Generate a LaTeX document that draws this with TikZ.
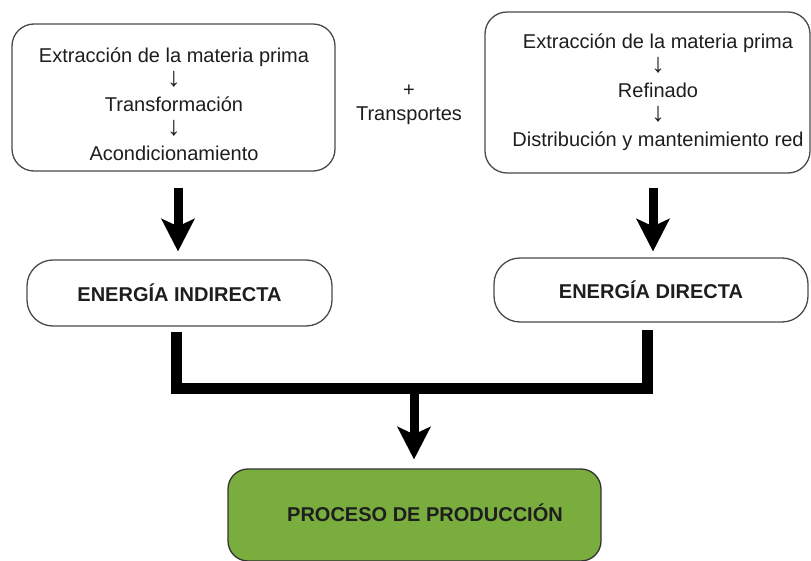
\documentclass[tikz,border=0pt]{standalone}
\usepackage{fontspec}
\setmainfont{Liberation Sans}
\usetikzlibrary{arrows.meta,calc}
\definecolor{prodgreen}{HTML}{79AD3D}
\definecolor{boxline}{HTML}{4A4A4A}
\definecolor{txtcol}{HTML}{1E1E1E}
\newcommand{\dnarrow}{{\fontsize{27}{24.5}\selectfont ↓}}
\begin{document}
\begin{tikzpicture}[x=1pt,y=-1pt,font=\fontsize{20}{24.5}\selectfont]
\tikzset{
  procbox/.style={draw=boxline, line width=1.3pt, rounded corners=22pt, fill=white, inner sep=0pt},
  energybox/.style={draw=boxline, line width=1.3pt, rounded corners=26pt, fill=white, inner sep=0pt, font=\fontsize{20}{24}\selectfont\bfseries, text=txtcol},
  prodbox/.style={draw=black!80, line width=1.3pt, rounded corners=20pt, fill=prodgreen, inner sep=0pt},
  txt/.style={align=center, inner sep=0pt, text=txtcol},
  bigarrow/.style={line width=9pt, -{Stealth[length=33pt,width=34pt,inset=8pt,line width=0pt]}},
  joinbar/.style={line width=11pt, line join=miter}
}
\path[use as bounding box] (0,0) rectangle (811,561);

% top process boxes
\node[procbox, minimum width=323pt, minimum height=147pt] (b1) at (173.5,97.5) {};
\node[txt] (t1) at (174,104) {Extracción de la materia prima\\\dnarrow\\Transformación\\\dnarrow\\Acondicionamiento};

\node[procbox, minimum width=325pt, minimum height=161pt] (b2) at (647.5,92.5) {};
\node[txt] (t2) at (658,92) {Extracción de la materia prima\\\dnarrow\\Refinado\\\dnarrow\\Distribución y mantenimiento red};

\node[txt] (tr) at (409,105) {+\\Transportes};

% energy boxes
\node[energybox, minimum width=305pt, minimum height=66pt] (ei) at (179.5,293) {ENERGÍA INDIRECTA};
\node[energybox, minimum width=314pt, minimum height=64pt] (ed) at (651,290) {ENERGÍA DIRECTA};

% production box
\node[prodbox, minimum width=373pt, minimum height=92pt] (pp) at (414.5,515) {};
\node[txt, font=\fontsize{20}{24}\selectfont\bfseries] (ppt) at (425,513) {PROCESO DE PRODUCCIÓN};

% arrows
\draw[bigarrow] ([xshift=4.5pt,yshift=-16pt]b1.south) -- ([xshift=-1.5pt,yshift=8pt]ei.north);
\draw[bigarrow] ([xshift=5.5pt,yshift=-14pt]b2.south) -- ([xshift=2pt,yshift=6pt]ed.north);

\coordinate (j) at (414,388.5);
\draw[joinbar] ([xshift=-3.5pt,yshift=-5pt]ei.south) |- (j) -| ([xshift=-4pt,yshift=-7pt]ed.south);
\draw[bigarrow] (j) -- ([xshift=-0.5pt,yshift=9pt]pp.north);
\end{tikzpicture}
\end{document}
